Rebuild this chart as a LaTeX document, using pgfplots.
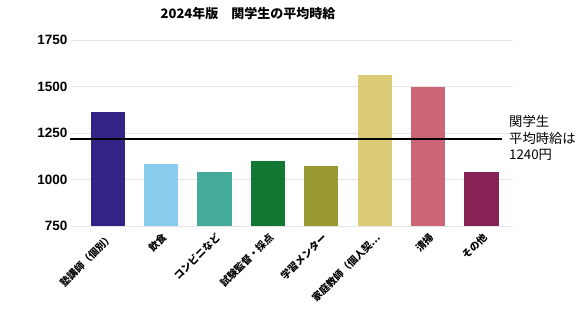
\documentclass[border=0pt]{standalone}
\usepackage{fontspec}
\usepackage{pgfplots}
\pgfplotsset{compat=1.18}
\setmainfont{Liberation Sans}
\newfontfamily\jp{Noto Sans CJK JP}
\definecolor{c1}{HTML}{332288}
\definecolor{c2}{HTML}{88CCEE}
\definecolor{c3}{HTML}{44AA99}
\definecolor{c4}{HTML}{117733}
\definecolor{c5}{HTML}{999933}
\definecolor{c6}{HTML}{DDCC77}
\definecolor{c7}{HTML}{CC6677}
\definecolor{c8}{HTML}{882255}
\begin{document}
\begin{tikzpicture}[x=1pt,y=1pt]
\path[use as bounding box] (0,0) rectangle (581,309);
\begin{axis}[
  at={(71pt,83pt)}, anchor=south west,
  scale only axis, width=442pt, height=186pt,
  xmin=-0.687, xmax=7.59, ymin=750, ymax=1750,
  ytick={750,1000,1250,1500,1750},
  xtick={0,...,7},
  xticklabels={塾講師（個別）,飲食,コンビニなど,試験監督・採点,学習メンター,家庭教師（個人契…,清掃,その他},
  xticklabel style={xshift=6pt, yshift=-7pt, rotate=45, anchor=east, font=\jp\bfseries\fontsize{10}{11}\selectfont},
  yticklabel style={font=\bfseries\fontsize{13.5}{15}\selectfont},
  /pgf/number format/assume math mode=true,
  /pgf/number format/1000 sep={},
  major tick length=0pt,
  axis line style={draw=none},
  ymajorgrids, grid style={draw=black!10, line width=1pt},
  clip=false,
  ybar, bar width=34.3pt, bar shift=0pt,
]
\addplot[fill=c1, draw=none] coordinates {(0,1363)};
\addplot[fill=c2, draw=none] coordinates {(1,1086)};
\addplot[fill=c3, draw=none] coordinates {(2,1040)};
\addplot[fill=c4, draw=none] coordinates {(3,1099)};
\addplot[fill=c5, draw=none] coordinates {(4,1072)};
\addplot[fill=c6, draw=none] coordinates {(5,1561)};
\addplot[fill=c7, draw=none] coordinates {(6,1498)};
\addplot[fill=c8, draw=none] coordinates {(7,1038)};
\addplot[sharp plot, black, line width=1.8pt, forget plot] coordinates {(-0.706,1218) (7.38,1218)};
\end{axis}
\node[font=\jp\bfseries\fontsize{13}{15}\selectfont] at (248,295) {2024年版　関学生の平均時給};
\node[font=\jp\fontsize{13.3}{16.7}\selectfont, anchor=north west, align=left, inner sep=0pt] at (509,194) {関学生\\平均時給は\\1240円};
\end{tikzpicture}
\end{document}
